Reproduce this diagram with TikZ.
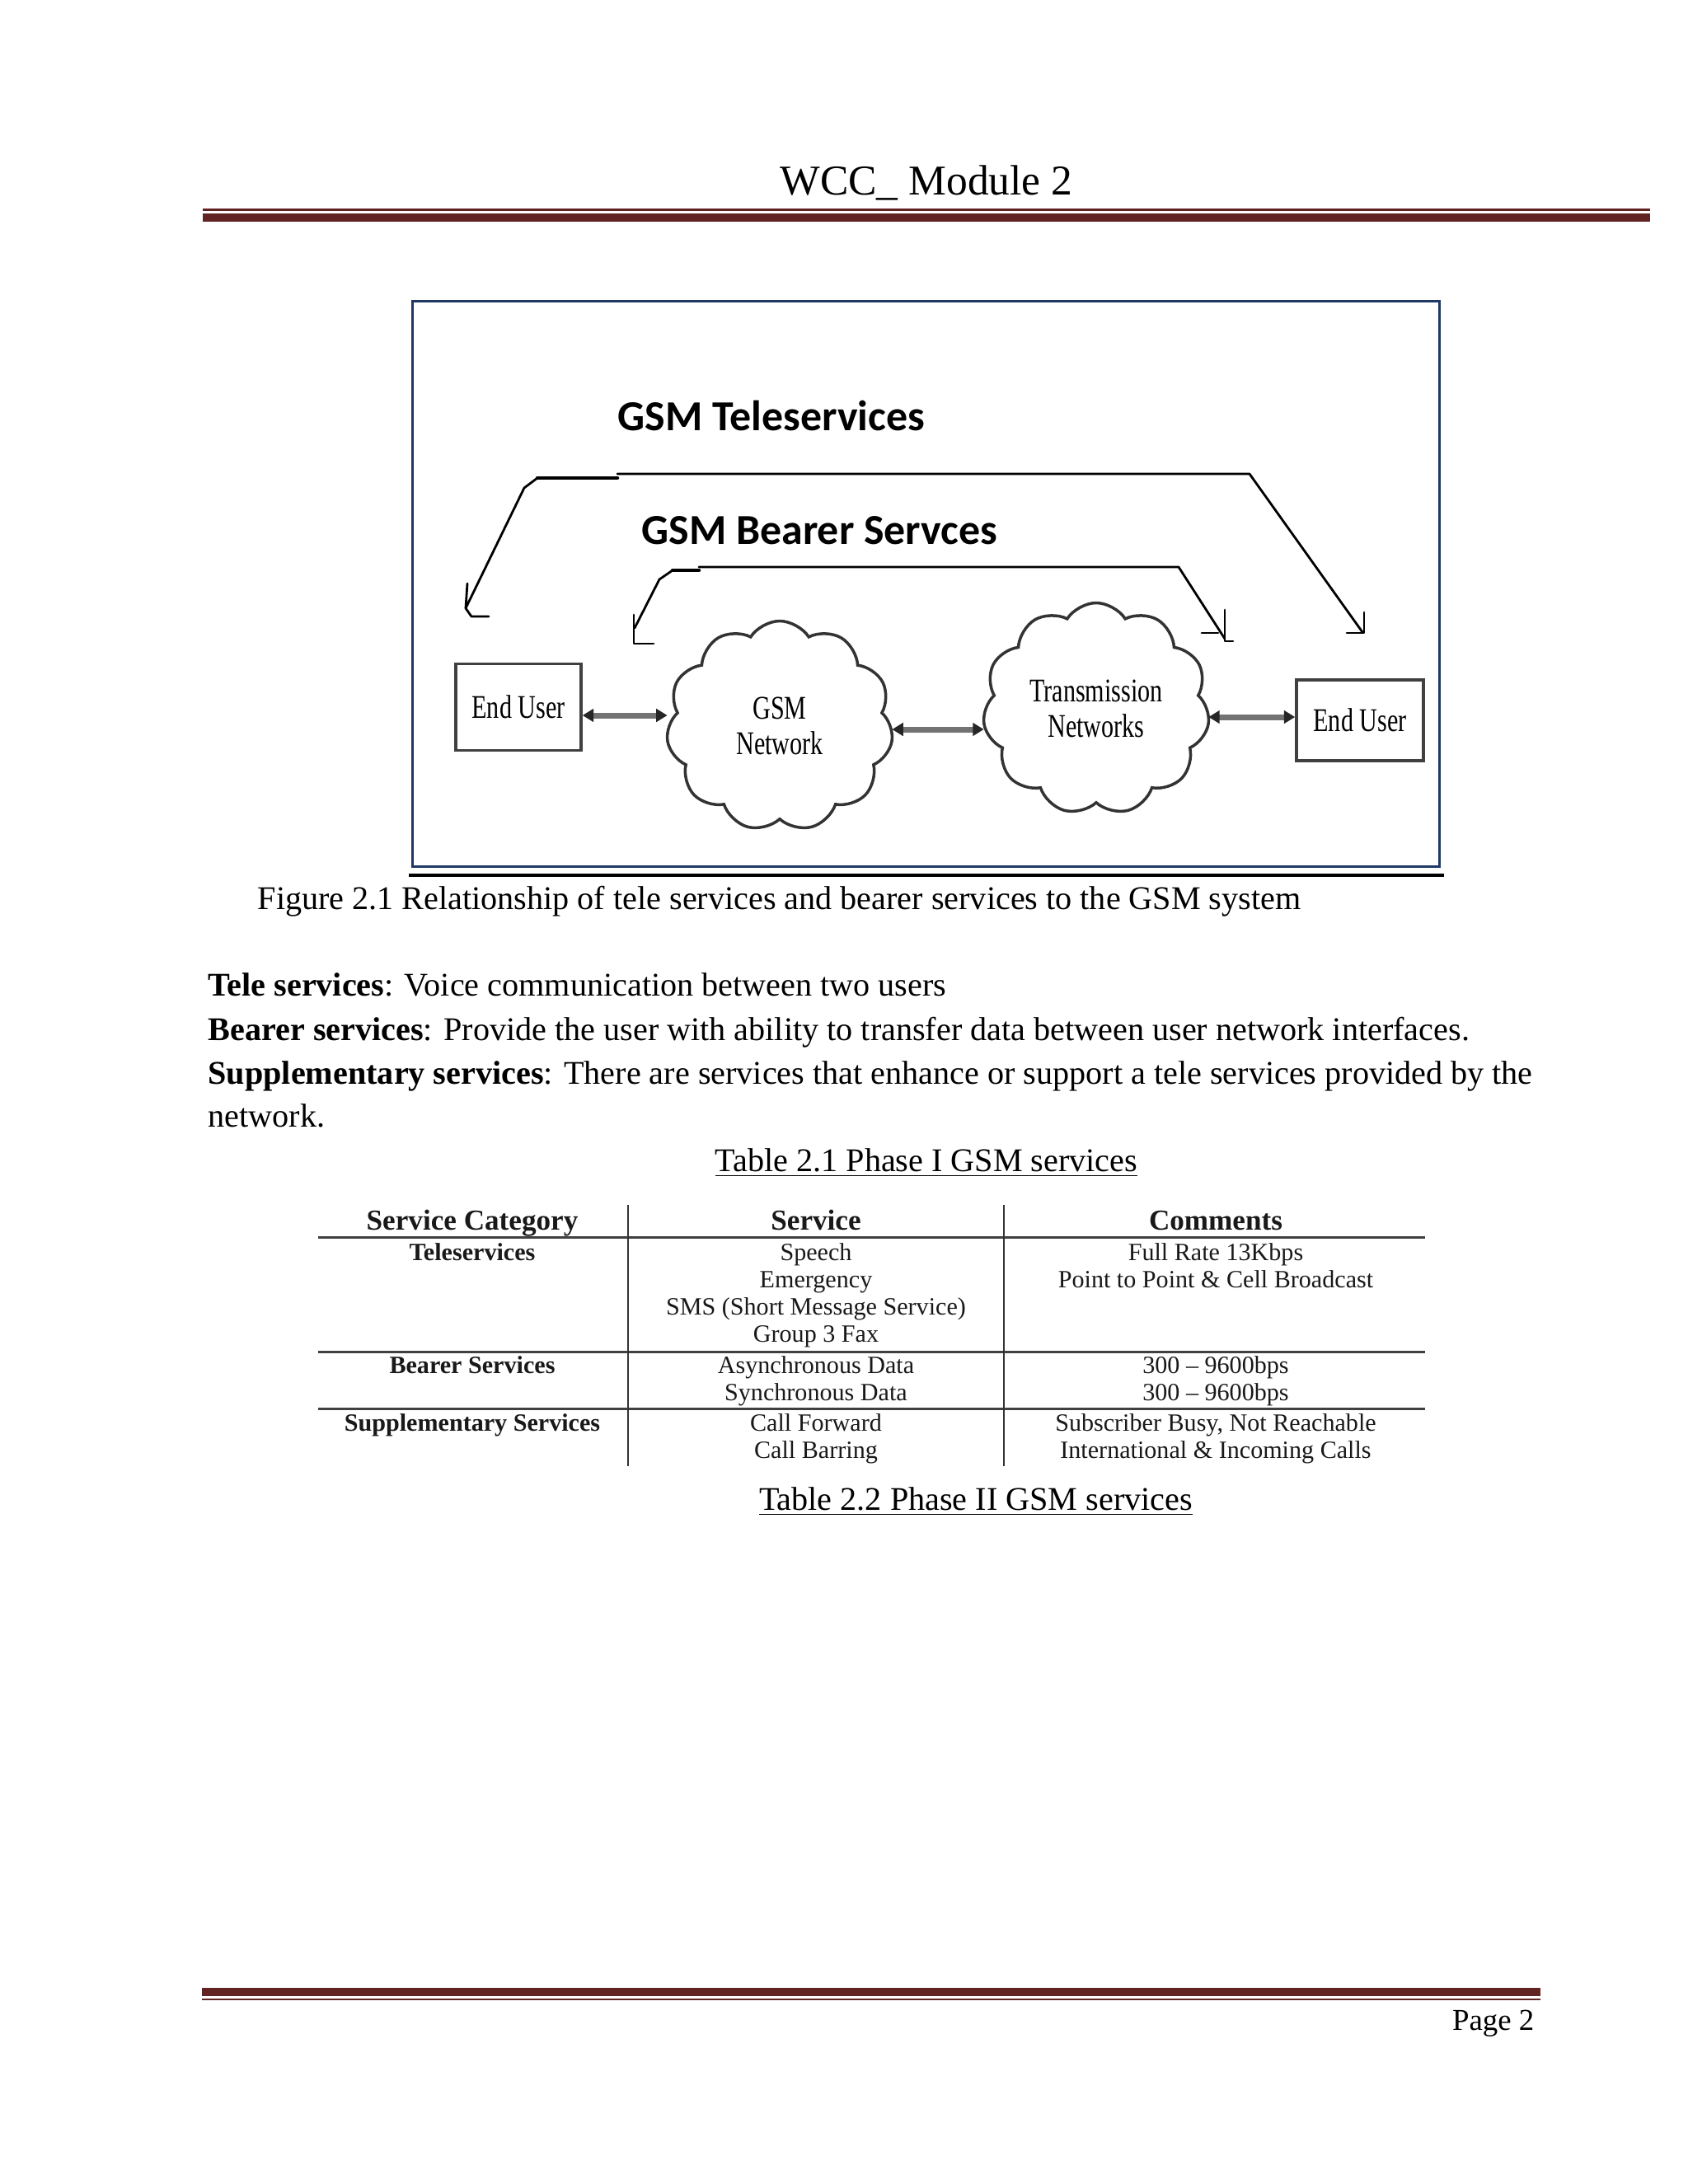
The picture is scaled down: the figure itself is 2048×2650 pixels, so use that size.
\documentclass[tikz,border=0pt]{standalone}
\usepackage{fontspec}
\setmainfont{Liberation Serif}
\newfontfamily\calib{Carlito}
\newfontfamily\condser[FakeStretch=0.75]{Liberation Serif}
\usetikzlibrary{shapes.symbols,arrows.meta}
\definecolor{maroon}{HTML}{622423}
\definecolor{boxblue}{HTML}{1F3864}
\newdimen\pxu \pxu=0.29883pt
\tikzset{
  txt/.style={inner sep=0pt, anchor=base west, font=\fontsize{12}{12}\selectfont},
  ctxt/.style={inner sep=0pt, anchor=base, font=\fontsize{12}{12}\selectfont},
  figtitle/.style={inner sep=0pt, anchor=base west, font=\calib\bfseries\fontsize{15.5}{15.5}\selectfont},
  netcloud/.style={cloud, cloud puffs=11, cloud puff arc=115, cloud ignores aspect,
     draw=black!80, line width=3.5\pxu, fill=white, align=center, inner sep=0pt,
     font=\condser\fontsize{12}{13}\selectfont},
  userbox/.style={draw=black!75, line width=3.5\pxu, fill=white, inner sep=0pt,
     font=\condser\fontsize{12}{12}\selectfont},
  dbl/.style={{Triangle[length=4pt,width=4.6pt,color=black!85]}-{Triangle[length=4pt,width=4.6pt,color=black!85]},
     draw=black!55, line width=7\pxu},
  brk/.style={line width=2.8\pxu, line join=round, line cap=round},
  brkthick/.style={line width=4.5\pxu, line cap=round},
  trule/.style={line width=3\pxu, draw=black!75},
  vrule/.style={line width=2\pxu, draw=black!80},
  thead/.style={inner sep=0pt, anchor=base, text=black!90, font=\bfseries\fontsize{10.5}{10.5}\selectfont},
  tlab/.style={inner sep=0pt, anchor=base, text=black!90, font=\bfseries\fontsize{9}{9}\selectfont},
  tcell/.style={inner sep=0pt, anchor=base, text=black!90, font=\fontsize{9}{9}\selectfont}
}
\begin{document}
\begin{tikzpicture}[x=0.29883pt, y=-0.29883pt]
\useasboundingbox (0,0) rectangle (2048,2650);
\fill[white] (0,0) rectangle (2048,2650);

% header
\node[ctxt, font=\fontsize{15.4}{15.4}\selectfont] (hdr) at (1124,236) {WCC\_ Module 2};
\fill[maroon] (246,253) rectangle (2002,255.5);
\fill[maroon] (246,259) rectangle (2002,269);

% footer
\fill[maroon] (245,2412) rectangle (1869,2422);
\fill[maroon] (245,2424.5) rectangle (1869,2426.5);
\node[inner sep=0pt, anchor=base east, font=\fontsize{11}{11}\selectfont] (pg) at (1862,2463) {Page 2};

% figure frame
\draw[boxblue, line width=3\pxu] (500,365) rectangle (1746,1051);
\draw[line width=3.5\pxu] (496,1062) -- (1752,1062);

% figure titles
\node[figtitle] (tele) at (749,522) {GSM Teleservices};
\node[figtitle] (bear) at (778,660) {GSM Bearer Servces};

% network elements
\node[userbox, minimum width=152\pxu, minimum height=105\pxu] (eu1) at (629,858) {End User};
\node[netcloud, minimum width=275\pxu, minimum height=255\pxu] (gsm) at (946,881) {GSM\\Network};
\node[netcloud, minimum width=275\pxu, minimum height=257\pxu] (trans) at (1330,860) {Transmission\\Networks};
\node[userbox, minimum width=154\pxu, minimum height=98\pxu] (eu2) at (1650,874) {End User};

% double arrows
\draw[dbl] (eu1.east |- 0,868) -- (gsm.west |- 0,868);
\draw[dbl] (gsm.east |- 0,885) -- (trans.west |- 0,885);
\draw[dbl] (trans.east |- 0,870) -- (eu2.west |- 0,870);

% tele services bracket
\coordinate (tA) at (565,738);
\coordinate (tB) at (636,592);
\coordinate (tC) at (652,580);
\coordinate (tD) at (749,580);
\coordinate (tE) at (749,575);
\coordinate (tF) at (1516,575);
\coordinate (tG) at (1653,767);
\draw[brk] (tA) -- (tB) -- (tC);
\draw[brkthick] (tC) -- (tD);
\draw[brk] (tE) -- (tF) -- (tG);
\draw[brk] (567,708) -- (tA) -- (572,748) -- (593,748);
\draw[brk] (1655,743) -- (1655,768) -- (1634,768);

% bearer services bracket
\coordinate (bA) at (770,762);
\coordinate (bB) at (800,703);
\coordinate (bC) at (816,692);
\coordinate (bD) at (848,692);
\coordinate (bE) at (848,688);
\coordinate (bF) at (1430,688);
\coordinate (bG) at (1486,775);
\draw[brk] (bA) -- (bB) -- (bC);
\draw[brkthick] (bC) -- (bD);
\draw[brk] (bE) -- (bF) -- (bG);
\draw[brk] (769,746) -- (769,781) -- (793,781);
\draw[brk] (1458,768) -- (1478,768);
\draw[brk] (1486,740) -- (1486,778) -- (1496,778);

% caption and body
\node[txt] (cap) at (312,1103) {Figure 2.1 Relationship of tele services and bearer services to the GSM system};
\node[txt] (l1) at (252,1208) {\textbf{Tele services}: Voice communication between two users};
\node[txt] (l2) at (252,1262) {\textbf{Bearer services}: Provide the user with ability to transfer data between user network interfaces.};
\node[txt] (l3) at (252,1315) {\textbf{Supplementary services}: There are services that enhance or support a tele services provided by the};
\node[txt] (l4) at (252,1367) {network.};
\node[ctxt] (t21) at (1124,1421) {\underline{Table 2.1 Phase I GSM services}};
\node[ctxt] (t22) at (1184,1832) {\underline{Table 2.2 Phase II GSM services}};

% table
\draw[trule] (386,1501) -- (1729,1501);
\draw[trule] (386,1640) -- (1729,1640);
\draw[trule] (386,1709) -- (1729,1709);
\draw[vrule] (762,1462) -- (762,1779);
\draw[vrule] (1218,1462) -- (1218,1779);

\node[thead] (h1) at (573,1492) {Service Category};
\node[thead] (h2) at (990,1492) {Service};
\node[thead] (h3) at (1475,1492) {Comments};

\node[tlab] (r1) at (573,1529) {Teleservices};
\node[tlab] (r2) at (573,1666) {Bearer Services};
\node[tlab] (r3) at (573,1736) {Supplementary Services};

\node[tcell] (s1) at (990,1529) {Speech};
\node[tcell] (s2) at (990,1562) {Emergency};
\node[tcell] (s3) at (990,1595) {SMS (Short Message Service)};
\node[tcell] (s4) at (990,1628) {Group 3 Fax};
\node[tcell] (s5) at (990,1666) {Asynchronous Data};
\node[tcell] (s6) at (990,1699) {Synchronous Data};
\node[tcell] (s7) at (990,1736) {Call Forward};
\node[tcell] (s8) at (990,1769) {Call Barring};

\node[tcell] (c1) at (1475,1529) {Full Rate 13Kbps};
\node[tcell] (c2) at (1475,1562) {Point to Point \& Cell Broadcast};
\node[tcell] (c3) at (1475,1666) {300 -- 9600bps};
\node[tcell] (c4) at (1475,1699) {300 -- 9600bps};
\node[tcell] (c5) at (1475,1736) {Subscriber Busy, Not Reachable};
\node[tcell] (c6) at (1475,1769) {International \& Incoming Calls};
\end{tikzpicture}
\end{document}
